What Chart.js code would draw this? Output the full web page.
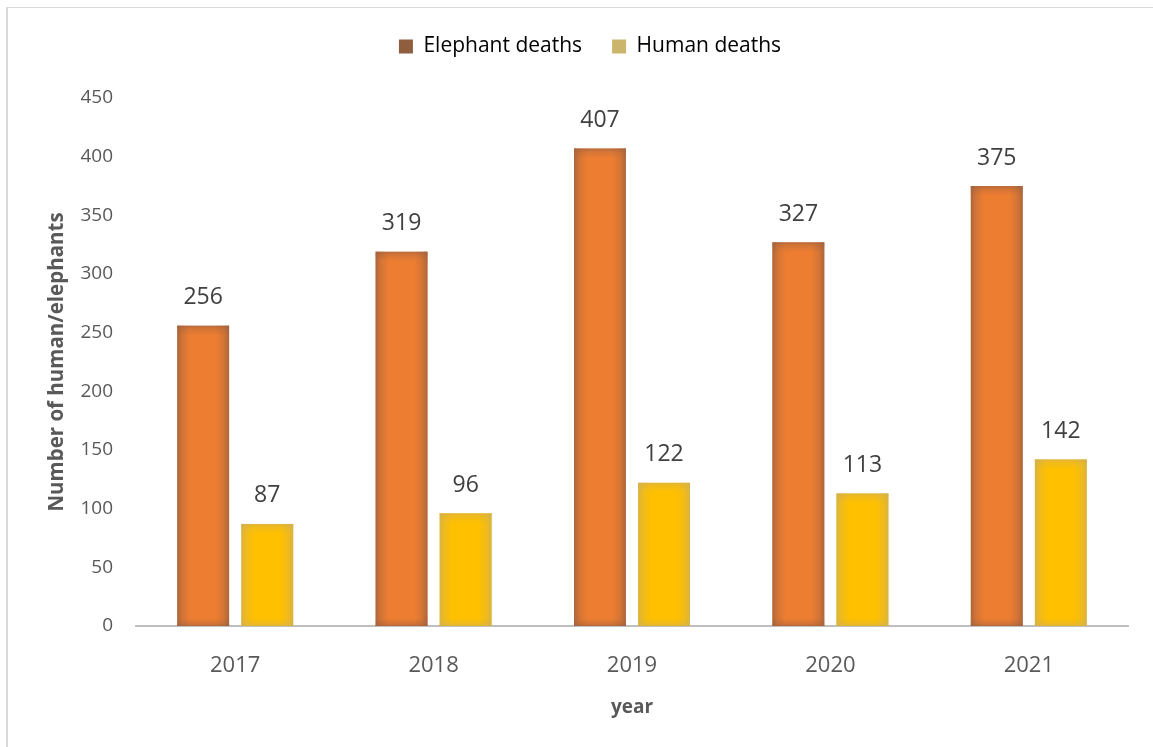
<!DOCTYPE html>
<html>
<head>
<meta charset="utf-8">
<script src="https://cdn.jsdelivr.net/npm/chart.js@4.4.1/dist/chart.umd.min.js"></script>
<style>
  html, body { margin: 0; padding: 0; background: #fff; overflow: hidden; }
  #wrap { position: relative; width: 1153px; height: 747px; }
  #frame { position: absolute; left: 6px; top: 7px; width: 1200px; height: 800px;
           border-left: 2px solid #d9d9d9; border-top: 1px solid #d9d9d9; }
  canvas { position: absolute; left: 0; top: 0; }
</style>
</head>
<body>
<div id="wrap">
  <div id="frame"></div>
  <canvas id="barChart" width="1153" height="747"></canvas>
</div>
<script>
const years = ['2017', '2018', '2019', '2020', '2021'];
const elephantDeaths = [256, 319, 407, 327, 375];
const humanDeaths = [87, 96, 122, 113, 142];
const yTicks = [0, 50, 100, 150, 200, 250, 300, 350, 400, 450];

const FONT = 'Open Sans';

// espace sous la légende + décalage horizontal
const legendMargin = {
  id: 'legendMargin',
  beforeInit(chart) {
    const fit = chart.legend.fit;
    chart.legend.fit = function () {
      fit.bind(chart.legend)();
      this.height += 31;
    };
  },
  afterLayout(chart) {
    chart.legend.left += 26;
    chart.legend.right += 26;
  }
};

// ombre intérieure sur les bords des barres
const barShade = {
  id: 'barShade',
  afterDatasetsDraw(chart) {
    const ctx = chart.ctx;
    const edges = [[150, 95, 65], [205, 175, 90]];
    chart.data.datasets.forEach((ds, di) => {
      const c = edges[di];
      const col = a => `rgba(${c[0]},${c[1]},${c[2]},${a})`;
      chart.getDatasetMeta(di).data.forEach(bar => {
        const p = bar.getProps(['x', 'y', 'base', 'width'], true);
        const l = p.x - p.width / 2, r = p.x + p.width / 2;
        const t = p.y, b = p.base;
        const w = 13;
        const side = (x0, x1) => {
          const g = ctx.createLinearGradient(x0, 0, x1, 0);
          g.addColorStop(0, col(0.75)); g.addColorStop(0.4, col(0.3)); g.addColorStop(1, col(0));
          return g;
        };
        const vert = (y0, y1) => {
          const g = ctx.createLinearGradient(0, y0, 0, y1);
          g.addColorStop(0, col(0.6)); g.addColorStop(0.4, col(0.25)); g.addColorStop(1, col(0));
          return g;
        };
        ctx.save();
        ctx.fillStyle = side(l, l + w); ctx.fillRect(l, t, w, b - t);
        ctx.fillStyle = side(r, r - w); ctx.fillRect(r - w, t, w, b - t);
        ctx.fillStyle = vert(t, t + 10); ctx.fillRect(l, t, r - l, 10);
        ctx.fillStyle = vert(b, b - 8); ctx.fillRect(l, b - 8, r - l, 8);
        ctx.restore();
      });
    });
  }
};

// valeurs au-dessus des barres
const valueLabels = {
  id: 'valueLabels',
  afterDatasetsDraw(chart) {
    const ctx = chart.ctx;
    ctx.save();
    ctx.font = '23px "' + FONT + '"';
    ctx.fillStyle = '#404040';
    ctx.textAlign = 'center';
    ctx.textBaseline = 'middle';
    chart.data.datasets.forEach((ds, di) => {
      chart.getDatasetMeta(di).data.forEach((bar, i) => {
        ctx.fillText(ds.data[i], bar.x, bar.y - 28);
      });
    });
    ctx.restore();
  }
};

const ctx = document.getElementById('barChart');
new Chart(ctx, {
  type: 'bar',
  data: {
    labels: years,
    datasets: [
      { label: 'Elephant deaths', data: elephantDeaths, backgroundColor: '#ED7D31', legendColor: '#8E5E3E' },
      { label: 'Human deaths', data: humanDeaths, backgroundColor: '#FFC000', legendColor: '#CBB46C' }
    ]
  },
  options: {
    responsive: false,
    animation: false,
    categoryPercentage: 0.646,
    barPercentage: 0.81,
    layout: { padding: { left: 0, right: 25, top: 6, bottom: 0 } },
    plugins: {
      legend: {
        position: 'top',
        labels: {
          color: '#595959',
          font: { family: FONT, size: 21 },
          boxWidth: 14, boxHeight: 14,
          padding: 30,
          generateLabels(chart) {
            return chart.data.datasets.map((d, i) => ({
              text: d.label, fillStyle: d.legendColor, strokeStyle: d.legendColor,
              lineWidth: 0, datasetIndex: i
            }));
          }
        }
      },
      tooltip: { enabled: false }
    },
    scales: {
      x: {
        grid: { display: false },
        border: { color: '#bfbfbf', width: 2 },
        ticks: { color: '#595959', font: { family: FONT, size: 22 }, padding: 19 },
        title: { display: true, text: 'year', color: '#595959', font: { family: FONT, size: 19, weight: 'bold' },
                 padding: { top: 4, bottom: 28 } },
        afterFit(scale) { scale.height = 121; }
      },
      y: {
        min: 0, max: 450,
        afterBuildTicks(scale) { scale.ticks = yTicks.map(v => ({ value: v })); },
        grid: { display: false, drawTicks: false },
        border: { display: false },
        ticks: { color: '#595959', font: { family: FONT, size: 19 }, padding: 23 },
        title: { display: true, text: 'Number of human/elephants', color: '#595959', font: { family: FONT, size: 20.5, weight: 'bold' },
                 padding: { top: 45, bottom: 0 } },
        afterFit(scale) { scale.width = 136; }
      }
    }
  },
  plugins: [legendMargin, barShade, valueLabels]
});
</script>
</body>
</html>
